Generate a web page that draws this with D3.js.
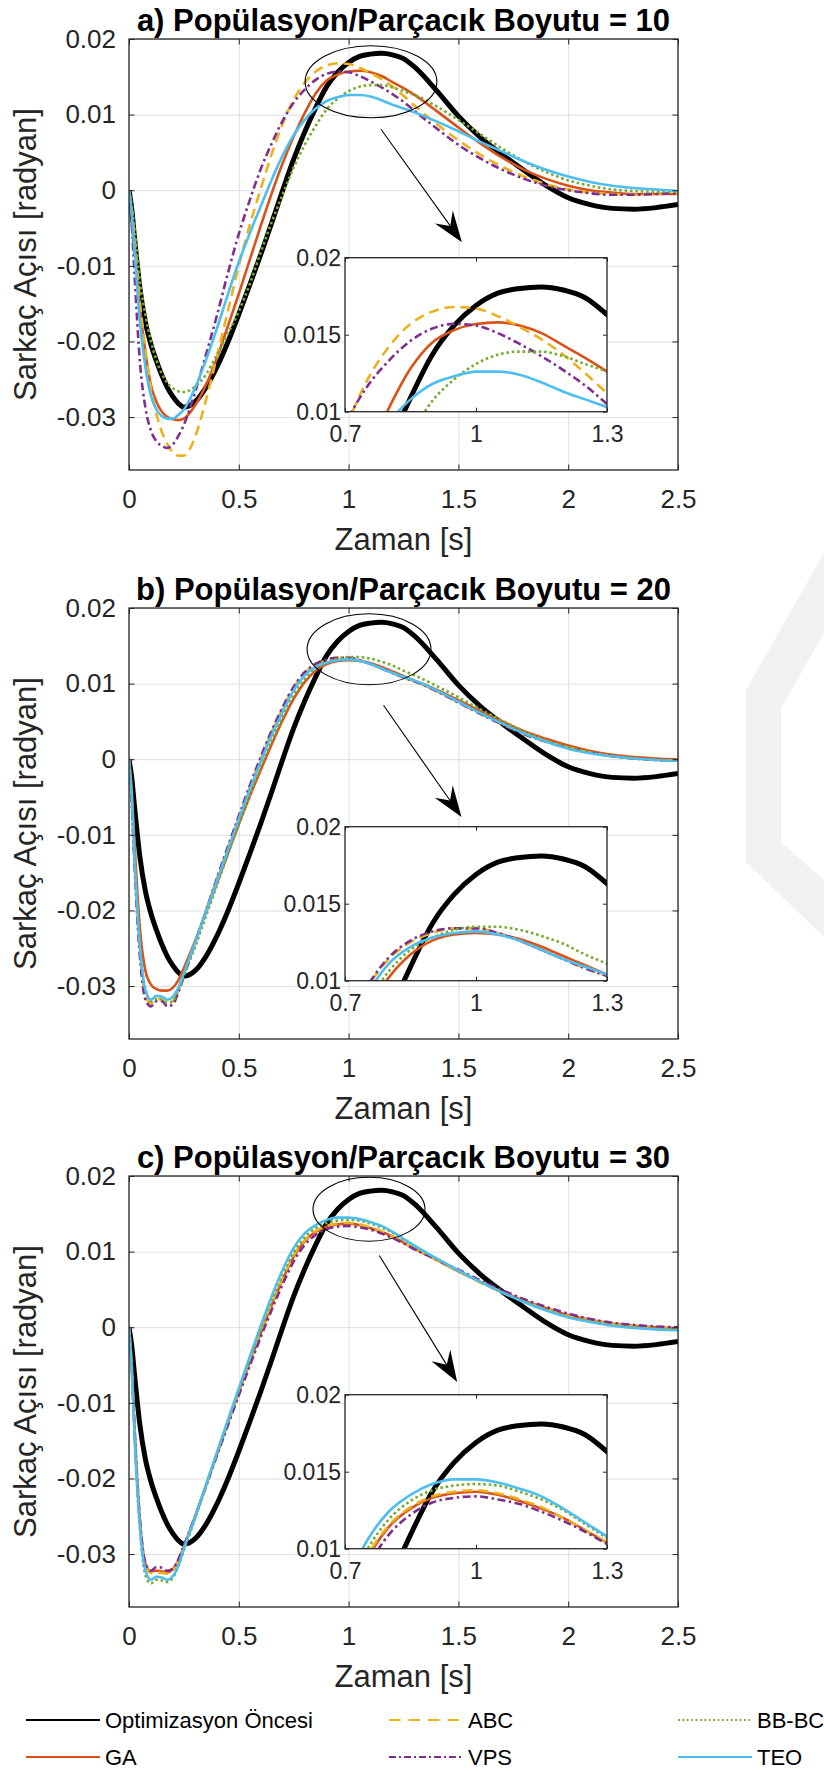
<!DOCTYPE html>
<html><head><meta charset="utf-8">
<script src="https://cdn.jsdelivr.net/npm/d3@7"></script>
<style>
body{margin:0;background:#fff}
svg text{font-family:"Liberation Sans",Arial,Helvetica,sans-serif}
</style>
</head><body>
<svg id="chart" width="824" height="1771"></svg>
<script>
// ---------------- DATA ----------------
const time = [0,0.0125,0.025,0.05,0.075,0.1,0.125,0.15,0.175,0.2,0.225,0.25,
  0.3,0.35,0.4,0.45,0.5,0.55,0.6,0.65,0.7,0.75,0.8,0.85,0.9,0.95,1,1.05,1.1,1.15,1.2,1.25,1.3,
  1.4,1.5,1.6,1.7,1.8,1.9,2,2.1,2.2,2.3,2.4,2.5];

const seriesNames = ["Optimizasyon Öncesi","GA","ABC","VPS","BB-BC","TEO"];
const panelTitles = ["a) Popülasyon/Parçacık Boyutu = 10","b) Popülasyon/Parçacık Boyutu = 20","c) Popülasyon/Parçacık Boyutu = 30"];
const xTicks = [0,0.5,1,1.5,2,2.5];
const xTickLabels = ["0","0.5","1","1.5","2","2.5"];
const yTicks = [-0.03,-0.02,-0.01,0,0.01,0.02];
const yTickLabels = ["-0.03","-0.02","-0.01","0","0.01","0.02"];
const insetXTicks = [0.7,1,1.3];
const insetXTickLabels = ["0.7","1","1.3"];
const insetYTicks = [0.01,0.015,0.02];
const insetYTickLabels = ["0.01","0.015","0.02"];
const xLabel = "Zaman [s]";
const yLabel = "Sarkaç Açısı [radyan]";

// Optimizasyon Öncesi (same in every panel)
const before = [0,-0.0025,-0.0062,-0.0130,-0.0175,-0.0204,-0.0226,-0.0245,-0.0261,-0.0273,-0.0282,-0.0287,
 -0.0280,-0.0261,-0.0234,-0.0201,-0.0164,-0.0125,-0.0085,-0.0043,0.0000,0.0041,0.0077,0.0109,0.0137,0.0156,0.0169,0.0177,0.0180,0.0181,0.0179,0.0174,0.0163,
 0.0132,0.0098,0.0070,0.0047,0.0026,0.0006,-0.0010,-0.0019,-0.0024,-0.0025,-0.0023,-0.0019];

// Panel a (size 10)
const gaA = [0,-0.0030,-0.0070,-0.0155,-0.0215,-0.0258,-0.0280,-0.0293,-0.0300,-0.0303,-0.0304,-0.0302,
 -0.0285,-0.0258,-0.0222,-0.0180,-0.0137,-0.0092,-0.0047,-0.0004,0.0036,0.0071,0.0102,0.0128,0.0145,0.0153,0.0157,0.0158,0.0156,0.0151,0.0143,0.0135,0.0126,
 0.0105,0.0083,0.0062,0.0043,0.0027,0.0015,0.0006,0.0000,-0.0003,-0.0005,-0.0005,-0.0005];
const abcA = [0,-0.0025,-0.0060,-0.0148,-0.0210,-0.0262,-0.0296,-0.0320,-0.0336,-0.0347,-0.0351,-0.0351,
 -0.0327,-0.0278,-0.0220,-0.0160,-0.0100,-0.0046,0.0002,0.0048,0.0088,0.0120,0.0142,0.0157,0.0165,0.0168,0.0167,0.0162,0.0155,0.0147,0.0137,0.0125,0.0112,
 0.0088,0.0066,0.0047,0.0031,0.0018,0.0008,0.0001,-0.0003,-0.0005,-0.0006,-0.0005,-0.0004];
const vpsA = [0,-0.0045,-0.0110,-0.0228,-0.0288,-0.0318,-0.0332,-0.0338,-0.0341,-0.0336,-0.0325,-0.0310,
 -0.0268,-0.0218,-0.0166,-0.0110,-0.0058,-0.0013,0.0028,0.0062,0.0092,0.0116,0.0133,0.0146,0.0154,0.0157,0.0156,0.0151,0.0144,0.0136,0.0127,0.0117,0.0105,
 0.0082,0.0060,0.0042,0.0027,0.0015,0.0006,0.0000,-0.0004,-0.0006,-0.0006,-0.0005,-0.0004];
const bbbcA = [0,-0.0020,-0.0050,-0.0120,-0.0165,-0.0200,-0.0225,-0.0243,-0.0255,-0.0262,-0.0266,-0.0267,
 -0.0260,-0.0244,-0.0218,-0.0190,-0.0160,-0.0124,-0.0082,-0.0042,-0.0005,0.0030,0.0060,0.0085,0.0107,0.0121,0.0131,0.0137,0.0139,0.0139,0.0136,0.0131,0.0126,
 0.0111,0.0093,0.0074,0.0055,0.0038,0.0024,0.0013,0.0006,0.0001,-0.0001,-0.0002,-0.0002];
const teoA = [0,-0.0032,-0.0080,-0.0175,-0.0235,-0.0272,-0.0290,-0.0299,-0.0302,-0.0302,-0.0297,-0.0290,
 -0.0262,-0.0225,-0.0183,-0.0138,-0.0095,-0.0057,-0.0021,0.0014,0.0046,0.0073,0.0093,0.0108,0.0118,0.0123,0.0126,0.0126,0.0124,0.0119,0.0113,0.0108,0.0103,
 0.0091,0.0078,0.0064,0.0051,0.0038,0.0027,0.0018,0.0011,0.0006,0.0003,0.0001,-0.0001];

// Panel b (size 20)
const gaB = [0,-0.0040,-0.0110,-0.0225,-0.0280,-0.0298,-0.0304,-0.0306,-0.0306,-0.0302,-0.0292,-0.0276,
 -0.0241,-0.0203,-0.0164,-0.0125,-0.0086,-0.0049,-0.0014,0.0020,0.0052,0.0080,0.0102,0.0117,0.0126,0.0130,0.0131,0.0130,0.0127,0.0122,0.0116,0.0110,0.0104,
 0.0092,0.0078,0.0064,0.0050,0.0037,0.0027,0.0018,0.0011,0.0006,0.0003,0.0001,0.0000];
const abcB = [0,-0.0060,-0.0135,-0.0257,-0.0313,-0.0323,-0.0317,-0.0318,-0.0323,-0.0320,-0.0305,-0.0285,
 -0.0243,-0.0200,-0.0158,-0.0117,-0.0076,-0.0037,0.0001,0.0036,0.0067,0.0095,0.0114,0.0125,0.0131,0.0134,0.0134,0.0131,0.0126,0.0120,0.0114,0.0108,0.0103,
 0.0090,0.0075,0.0060,0.0046,0.0033,0.0023,0.0015,0.0009,0.0004,0.0001,-0.0001,-0.0002];
const vpsB = [0,-0.0060,-0.0140,-0.0262,-0.0318,-0.0327,-0.0320,-0.0320,-0.0327,-0.0324,-0.0308,-0.0287,
 -0.0244,-0.0201,-0.0158,-0.0116,-0.0075,-0.0035,0.0003,0.0038,0.0069,0.0096,0.0115,0.0126,0.0132,0.0134,0.0134,0.0131,0.0126,0.0120,0.0114,0.0108,0.0103,
 0.0090,0.0075,0.0060,0.0046,0.0033,0.0023,0.0015,0.0009,0.0004,0.0001,-0.0001,-0.0002];
const bbbcB = [0,-0.0050,-0.0125,-0.0245,-0.0305,-0.0320,-0.0317,-0.0318,-0.0322,-0.0320,-0.0306,-0.0287,
 -0.0249,-0.0208,-0.0167,-0.0126,-0.0086,-0.0047,-0.0010,0.0025,0.0057,0.0085,0.0106,0.0120,0.0128,0.0133,0.0135,0.0135,0.0133,0.0129,0.0124,0.0117,0.0111,
 0.0097,0.0082,0.0066,0.0051,0.0037,0.0025,0.0016,0.0009,0.0004,0.0001,-0.0001,-0.0002];
const teoB = [0,-0.0050,-0.0130,-0.0250,-0.0305,-0.0318,-0.0313,-0.0314,-0.0318,-0.0314,-0.0302,-0.0283,
 -0.0243,-0.0202,-0.0161,-0.0120,-0.0079,-0.0040,-0.0003,0.0032,0.0063,0.0091,0.0111,0.0122,0.0128,0.0131,0.0132,0.0130,0.0126,0.0120,0.0114,0.0109,0.0104,
 0.0091,0.0076,0.0061,0.0047,0.0034,0.0023,0.0014,0.0008,0.0004,0.0001,-0.0001,-0.0002];

// Panel c (size 30)
const gaC = [0,-0.0050,-0.0135,-0.0258,-0.0313,-0.0323,-0.0322,-0.0323,-0.0324,-0.0320,-0.0308,-0.0290,
 -0.0251,-0.0210,-0.0168,-0.0127,-0.0086,-0.0046,-0.0008,0.0029,0.0063,0.0093,0.0114,0.0126,0.0133,0.0136,0.0137,0.0135,0.0131,0.0126,0.0120,0.0112,0.0104,
 0.0089,0.0074,0.0060,0.0047,0.0035,0.0025,0.0016,0.0010,0.0005,0.0002,0.0000,-0.0001];
const abcC = [0,-0.0050,-0.0135,-0.0258,-0.0315,-0.0325,-0.0324,-0.0325,-0.0326,-0.0322,-0.0309,-0.0290,
 -0.0251,-0.0209,-0.0167,-0.0126,-0.0085,-0.0045,-0.0006,0.0031,0.0065,0.0095,0.0115,0.0127,0.0134,0.0137,0.0138,0.0136,0.0132,0.0127,0.0120,0.0112,0.0104,
 0.0089,0.0074,0.0059,0.0046,0.0034,0.0024,0.0015,0.0009,0.0004,0.0001,-0.0001,-0.0002];
const vpsC = [0,-0.0050,-0.0130,-0.0255,-0.0312,-0.0322,-0.0317,-0.0318,-0.0322,-0.0319,-0.0307,-0.0289,
 -0.0251,-0.0211,-0.0170,-0.0130,-0.0090,-0.0051,-0.0013,0.0023,0.0057,0.0087,0.0109,0.0122,0.0130,0.0133,0.0134,0.0132,0.0129,0.0124,0.0118,0.0111,0.0103,
 0.0090,0.0076,0.0062,0.0049,0.0037,0.0027,0.0018,0.0011,0.0006,0.0003,0.0001,0.0000];
const bbbcC = [0,-0.0055,-0.0140,-0.0268,-0.0328,-0.0339,-0.0334,-0.0335,-0.0337,-0.0331,-0.0316,-0.0295,
 -0.0254,-0.0211,-0.0168,-0.0126,-0.0084,-0.0043,-0.0003,0.0035,0.0070,0.0099,0.0119,0.0131,0.0138,0.0141,0.0142,0.0141,0.0137,0.0132,0.0125,0.0116,0.0107,
 0.0091,0.0075,0.0060,0.0046,0.0034,0.0023,0.0014,0.0008,0.0003,0.0000,-0.0002,-0.0003];
const teoC = [0,-0.0055,-0.0140,-0.0265,-0.0322,-0.0334,-0.0330,-0.0331,-0.0334,-0.0329,-0.0315,-0.0293,
 -0.0252,-0.0209,-0.0166,-0.0123,-0.0081,-0.0039,0.0002,0.0041,0.0076,0.0105,0.0124,0.0135,0.0142,0.0145,0.0145,0.0143,0.0139,0.0134,0.0126,0.0117,0.0108,
 0.0091,0.0075,0.0060,0.0046,0.0033,0.0022,0.0013,0.0007,0.0002,-0.0001,-0.0003,-0.0004];

// zoom annotations (ellipse centre/radii and arrow start/end, in data units)
const zoomEllipses = [
  {t:1.102, v:0.01434, rt:0.300, rv:0.00476},
  {t:1.093, v:0.01454, rt:0.282, rv:0.00469},
  {t:1.093, v:0.01560, rt:0.255, rv:0.00423}
];
const zoomArrows = [
  {t1:1.1475, v1:0.00806, t2:1.516, v2:-0.00687},
  {t1:1.159,  v1:0.00714, t2:1.514, v2:-0.00763},
  {t1:1.140,  v1:0.00948, t2:1.4945, v2:-0.00723}
];

// ---------------- LAYOUT / STYLE ----------------
const FONT = '"Liberation Sans", Arial, Helvetica, sans-serif';
const AX = '#262626';
const plot = {left:129, right:678, top:39, bottom:470};
const inset = {left:345, right:607, top:257.7, bottom:411.7};
const panelOffsets = [0, 569, 1137];
const styles = [
  {color:'#000000', width:5,   dash:null,              legendDash:null},
  {color:'#D95319', width:2.6, dash:null,              legendDash:null},
  {color:'#EDB120', width:2.6, dash:'10,6',            legendDash:'11.5,8'},
  {color:'#7E2F8E', width:2.6, dash:'8,3.5,2.5,3.5',   legendDash:'7,3,2,3'},
  {color:'#77AC30', width:2.6, dash:'2.6,2.8',         legendDash:'1.8,2.6'},
  {color:'#4DBEEE', width:2.6, dash:null,              legendDash:null}
];
const panelSeries = [
  [before, gaA, abcA, vpsA, bbbcA, teoA],
  [before, gaB, abcB, vpsB, bbbcB, teoB],
  [before, gaC, abcC, vpsC, bbbcC, teoC]
];

const svg = d3.select('#chart');
svg.append('rect').attr('width',824).attr('height',1771).attr('fill','#fff');

// faint background watermark (page decoration on the right edge)
svg.append('path')
  .attr('d','M824,553 L746,690 L746,862 L824,937 L824,880 L781,842 L781,708 L824,633 Z')
  .attr('fill','#f1f1f1');

const defs = svg.append('defs');
defs.append('clipPath').attr('id','clipMain').append('rect')
  .attr('x',plot.left).attr('y',plot.top).attr('width',plot.right-plot.left).attr('height',plot.bottom-plot.top);
defs.append('clipPath').attr('id','clipInset').append('rect')
  .attr('x',inset.left).attr('y',inset.top).attr('width',inset.right-inset.left).attr('height',inset.bottom-inset.top);

const x = d3.scaleLinear().domain([0,2.5]).range([plot.left, plot.right]);
const y = d3.scaleLinear().domain([-0.037,0.02]).range([plot.bottom, plot.top]);
const xi = d3.scaleLinear().domain([0.7,1.3]).range([inset.left, inset.right]);
const yi = d3.scaleLinear().domain([0.01,0.02]).range([inset.bottom, inset.top]);

const lineMain = d3.line().x((d,i)=>x(time[i])).y(d=>y(d)).curve(d3.curveMonotoneX);
const lineInset = d3.line().x((d,i)=>xi(time[i])).y(d=>yi(d)).curve(d3.curveMonotoneX);

function styleAxis(sel, size){
  sel.attr('font-family', FONT).attr('font-size', size);
  sel.select('.domain').remove();
  sel.selectAll('.tick line').attr('stroke', AX).attr('stroke-width', 1);
  sel.selectAll('.tick text').attr('fill', AX);
}

function drawCurves(g, series, gen, clip){
  const cg = g.append('g').attr('clip-path', `url(#${clip})`);
  series.forEach((s, k) => {
    const st = styles[k];
    cg.append('path').attr('d', gen(s)).attr('fill','none')
      .attr('stroke', st.color).attr('stroke-width', st.width)
      .attr('stroke-linejoin','round')
      .attr('stroke-dasharray', st.dash);
  });
}

panelOffsets.forEach((off, p) => {
  const g = svg.append('g').attr('transform', `translate(0,${off})`);
  const H = plot.bottom - plot.top, Wd = plot.right - plot.left;

  g.append('rect').attr('x',plot.left).attr('y',plot.top).attr('width',Wd).attr('height',H).attr('fill','#fff');

  // grid
  g.append('g').attr('transform',`translate(0,${plot.bottom})`)
    .call(d3.axisBottom(x).tickValues(xTicks).tickSize(-H).tickFormat(''))
    .call(s=>{s.select('.domain').remove(); s.selectAll('line').attr('stroke','#dfdfdf').attr('stroke-width',1);});
  g.append('g').attr('transform',`translate(${plot.left},0)`)
    .call(d3.axisLeft(y).tickValues(yTicks).tickSize(-Wd).tickFormat(''))
    .call(s=>{s.select('.domain').remove(); s.selectAll('line').attr('stroke','#dfdfdf').attr('stroke-width',1);});

  // curves
  drawCurves(g, panelSeries[p], lineMain, 'clipMain');

  // axes
  g.append('g').attr('transform',`translate(0,${plot.bottom})`)
    .call(d3.axisBottom(x).tickValues(xTicks).tickSizeInner(-5.5).tickSizeOuter(0).tickPadding(20).tickFormat((d,i)=>xTickLabels[i]))
    .call(s=>styleAxis(s,26));
  g.append('g').attr('transform',`translate(0,${plot.top})`)
    .call(d3.axisTop(x).tickValues(xTicks).tickSizeInner(-5.5).tickSizeOuter(0).tickFormat(''))
    .call(s=>styleAxis(s,26));
  g.append('g').attr('transform',`translate(${plot.left},0)`)
    .call(d3.axisLeft(y).tickValues(yTicks).tickSizeInner(-5.5).tickSizeOuter(0).tickPadding(13).tickFormat((d,i)=>yTickLabels[i]))
    .call(s=>styleAxis(s,26));
  g.append('g').attr('transform',`translate(${plot.right},0)`)
    .call(d3.axisRight(y).tickValues(yTicks).tickSizeInner(-5.5).tickSizeOuter(0).tickFormat(''))
    .call(s=>styleAxis(s,26));
  g.append('rect').attr('x',plot.left).attr('y',plot.top).attr('width',Wd).attr('height',H)
    .attr('fill','none').attr('stroke',AX).attr('stroke-width',1.3);

  // title & labels
  g.append('text').attr('x',(plot.left+plot.right)/2).attr('y',30.5).attr('text-anchor','middle')
    .attr('font-weight','bold').attr('font-size',31).attr('fill','#000').text(panelTitles[p]);
  g.append('text').attr('transform',`translate(35.5,${(plot.top+plot.bottom)/2}) rotate(-90)`)
    .attr('text-anchor','middle').attr('font-size',31).attr('fill',AX).text(yLabel);
  g.append('text').attr('x',(plot.left+plot.right)/2).attr('y',550).attr('text-anchor','middle')
    .attr('font-size',31).attr('fill',AX).text(xLabel);

  // zoom ellipse and arrow
  const e = zoomEllipses[p];
  g.append('ellipse').attr('cx',x(e.t)).attr('cy',y(e.v))
    .attr('rx',x(e.t+e.rt)-x(e.t)).attr('ry',y(e.v-e.rv)-y(e.v))
    .attr('fill','none').attr('stroke','#000').attr('stroke-width',1.1);
  const a = zoomArrows[p];
  const P1=[x(a.t1),y(a.v1)], P2=[x(a.t2),y(a.v2)];
  const len=Math.hypot(P2[0]-P1[0],P2[1]-P1[1]);
  const u=[(P2[0]-P1[0])/len,(P2[1]-P1[1])/len], n=[-u[1],u[0]];
  const L=31, w=11, notch=20;
  const nb=[P2[0]-notch*u[0],P2[1]-notch*u[1]];
  g.append('line').attr('x1',P1[0]).attr('y1',P1[1]).attr('x2',nb[0]).attr('y2',nb[1])
    .attr('stroke','#000').attr('stroke-width',1.1);
  const head=[P2,[P2[0]-L*u[0]+w*n[0],P2[1]-L*u[1]+w*n[1]],nb,[P2[0]-L*u[0]-w*n[0],P2[1]-L*u[1]-w*n[1]]];
  g.append('path').attr('d','M'+head.map(q=>q.join(',')).join('L')+'Z').attr('fill','#000');

  // inset
  const ig = g.append('g');
  ig.append('rect').attr('x',inset.left).attr('y',inset.top)
    .attr('width',inset.right-inset.left).attr('height',inset.bottom-inset.top).attr('fill','#fff');
  drawCurves(ig, panelSeries[p], lineInset, 'clipInset');
  ig.append('g').attr('transform',`translate(0,${inset.bottom})`)
    .call(d3.axisBottom(xi).tickValues(insetXTicks).tickSizeInner(-4).tickSizeOuter(0).tickPadding(14).tickFormat((d,i)=>insetXTickLabels[i]))
    .call(s=>styleAxis(s,23));
  ig.append('g').attr('transform',`translate(0,${inset.top})`)
    .call(d3.axisTop(xi).tickValues(insetXTicks).tickSizeInner(-4).tickSizeOuter(0).tickFormat(''))
    .call(s=>styleAxis(s,23));
  ig.append('g').attr('transform',`translate(${inset.left},0)`)
    .call(d3.axisLeft(yi).tickValues(insetYTicks).tickSizeInner(-4).tickSizeOuter(0).tickPadding(4).tickFormat((d,i)=>insetYTickLabels[i]))
    .call(s=>styleAxis(s,23));
  ig.append('g').attr('transform',`translate(${inset.right},0)`)
    .call(d3.axisRight(yi).tickValues(insetYTicks).tickSizeInner(-4).tickSizeOuter(0).tickFormat(''))
    .call(s=>styleAxis(s,23));
  ig.append('rect').attr('x',inset.left).attr('y',inset.top)
    .attr('width',inset.right-inset.left).attr('height',inset.bottom-inset.top)
    .attr('fill','none').attr('stroke',AX).attr('stroke-width',1.3);
});

// ---------------- LEGEND ----------------
const legendCols = [26, 389, 678];
const legendRows = [1720, 1757];
const lg = svg.append('g');
seriesNames.forEach((name, k) => {
  const col = Math.floor(k/2), row = k%2;
  const lx = legendCols[col], ly = legendRows[row];
  const st = styles[k];
  lg.append('line').attr('x1',lx).attr('x2',lx+74).attr('y1',ly).attr('y2',ly)
    .attr('stroke',st.color).attr('stroke-width',2).attr('stroke-dasharray',st.legendDash);
  lg.append('text').attr('x',lx+79).attr('y',ly).attr('dy','0.35em')
    .attr('font-size',22).attr('fill','#000').text(name);
});
</script>
</body></html>
